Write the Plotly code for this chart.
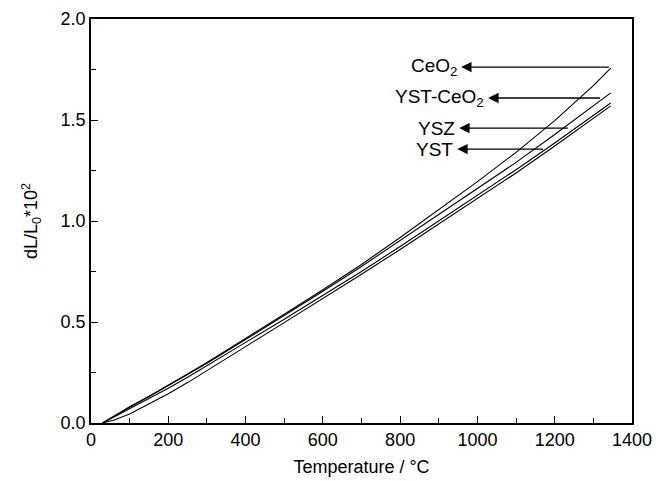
import plotly.graph_objects as go

temperature = [30, 60, 100, 150, 200, 250, 300, 400, 500, 600, 700, 800, 900, 1000, 1100, 1200, 1300, 1345]
ceo2 =     [0, 0.035, 0.080, 0.133, 0.187, 0.243, 0.300, 0.418, 0.538, 0.660, 0.785, 0.918, 1.055, 1.195, 1.340, 1.497, 1.670, 1.757]
yst_ceo2 = [0, 0.035, 0.078, 0.130, 0.184, 0.239, 0.296, 0.413, 0.531, 0.652, 0.775, 0.903, 1.033, 1.162, 1.290, 1.428, 1.570, 1.634]
ysz =      [0, 0.030, 0.070, 0.120, 0.172, 0.227, 0.283, 0.399, 0.514, 0.631, 0.750, 0.874, 1.000, 1.126, 1.254, 1.386, 1.522, 1.584]
yst =      [0, 0.015, 0.045, 0.093, 0.145, 0.200, 0.258, 0.378, 0.497, 0.616, 0.736, 0.859, 0.984, 1.110, 1.238, 1.371, 1.507, 1.570]

labels = ["CeO<sub>2</sub>", "YST-CeO<sub>2</sub>", "YSZ", "YST"]
arrow_y = [1.762, 1.609, 1.460, 1.356]
arrow_tail_x = [1340, 1317, 1234, 1170]
label_right_x = [950, 1020, 945, 940]

FONT = "Liberation Sans, Arial, sans-serif"

fig = go.Figure()
for name, ys in zip(["CeO2", "YST-CeO2", "YSZ", "YST"], [ceo2, yst_ceo2, ysz, yst]):
    fig.add_trace(go.Scatter(x=temperature, y=ys, mode="lines", name=name,
                             line=dict(color="black", width=1.1), showlegend=False))

for lab, yv, tx, lx in zip(labels, arrow_y, arrow_tail_x, label_right_x):
    fig.add_annotation(x=tx, y=yv, ax=lx, ay=yv, xref="x", yref="y", axref="x", ayref="y",
                       text=lab, showarrow=True, arrowside="start",
                       startarrowhead=2, startarrowsize=1.6, arrowwidth=1.3,
                       arrowcolor="black", startstandoff=3,
                       xanchor="right", yanchor="middle", borderpad=0,
                       font=dict(family=FONT, size=19, color="black"))

axis_common = dict(showgrid=False, zeroline=False, showline=True, linecolor="black",
                   linewidth=1.5, mirror=True, ticks="inside", ticklen=7, tickwidth=1.2,
                   tickcolor="black", tickfont=dict(family=FONT, size=18, color="black"),
                   automargin=False)

fig.update_xaxes(range=[0, 1400], tick0=0, dtick=200,
                 minor=dict(ticks="inside", dtick=100, ticklen=5, tickwidth=1.2, tickcolor="black"),
                 title=dict(text="Temperature / \u00b0C", font=dict(family=FONT, size=18, color="black"),
                            standoff=11),
                 **axis_common)
fig.update_yaxes(range=[0, 2.0], tick0=0, dtick=0.5, tickformat=".1f",
                 minor=dict(ticks="inside", dtick=0.25, ticklen=5, tickwidth=1.2, tickcolor="black"),
                 title=dict(text="dL/L<sub>0</sub>*10<sup>2</sup>", font=dict(family=FONT, size=18, color="black"),
                            standoff=18),
                 **axis_common)

fig.update_layout(width=670, height=481, margin=dict(l=91, r=38, t=19, b=58),
                  plot_bgcolor="white", paper_bgcolor="white")

fig.write_html("out.html")
